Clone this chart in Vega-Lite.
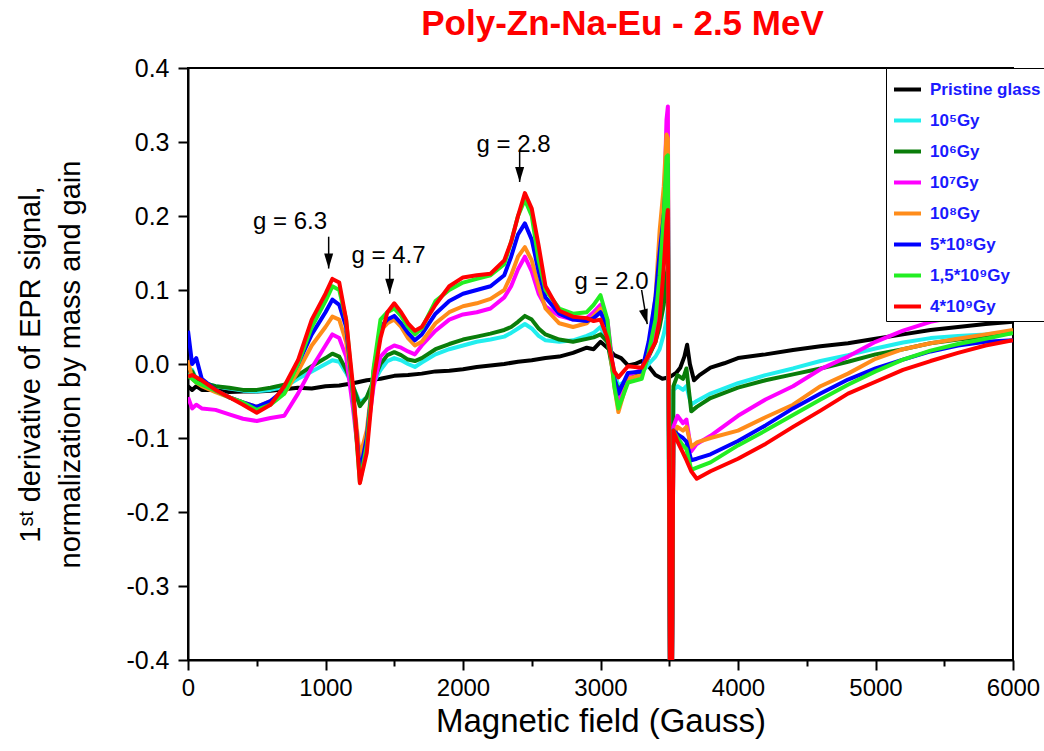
{
"$schema":"https://vega.github.io/schema/vega-lite/v6.json",
"width":825,"height":592,"autosize":"none",
"padding":{"left":188,"top":68,"right":31,"bottom":91},
"background":"white",
"config":{"view":{"stroke":"black","strokeWidth":2},"font":"Liberation Sans"},
"title":{"text":"Poly-Zn-Na-Eu - 2.5 MeV","color":"#ff0000","fontSize":35,"fontWeight":"bold","font":"Liberation Sans","anchor":"middle","frame":"group","dx":22,"offset":14},
"datasets":{
"curves":[
{"s":0,"x":0,"y":-0.03},{"s":0,"x":30,"y":-0.035},{"s":0,"x":60,"y":-0.03},{"s":0,"x":100,"y":-0.035},{"s":0,"x":200,"y":-0.035},{"s":0,"x":300,"y":-0.038},{"s":0,"x":400,"y":-0.037},{"s":0,"x":500,"y":-0.037},{"s":0,"x":600,"y":-0.036},{"s":0,"x":700,"y":-0.034},{"s":0,"x":800,"y":-0.032},{"s":0,"x":900,"y":-0.033},{"s":0,"x":1000,"y":-0.03},{"s":0,"x":1100,"y":-0.029},{"s":0,"x":1200,"y":-0.026},{"s":0,"x":1300,"y":-0.022},{"s":0,"x":1400,"y":-0.02},{"s":0,"x":1500,"y":-0.016},{"s":0,"x":1600,"y":-0.015},{"s":0,"x":1700,"y":-0.013},{"s":0,"x":1800,"y":-0.01},{"s":0,"x":1900,"y":-0.009},{"s":0,"x":2000,"y":-0.007},{"s":0,"x":2100,"y":-0.004},{"s":0,"x":2200,"y":-0.002},{"s":0,"x":2300,"y":0},{"s":0,"x":2400,"y":0.003},{"s":0,"x":2500,"y":0.005},{"s":0,"x":2600,"y":0.008},{"s":0,"x":2700,"y":0.01},{"s":0,"x":2800,"y":0.015},{"s":0,"x":2900,"y":0.022},{"s":0,"x":2950,"y":0.02},{"s":0,"x":3000,"y":0.03},{"s":0,"x":3050,"y":0.022},{"s":0,"x":3100,"y":0.012},{"s":0,"x":3150,"y":0.008},{"s":0,"x":3200,"y":-0.002},{"s":0,"x":3250,"y":0},{"s":0,"x":3300,"y":0.004},{"s":0,"x":3350,"y":-0.003},{"s":0,"x":3400,"y":-0.015},{"s":0,"x":3450,"y":-0.02},{"s":0,"x":3500,"y":-0.018},{"s":0,"x":3550,"y":-0.012},{"s":0,"x":3580,"y":-0.005},{"s":0,"x":3610,"y":0.01},{"s":0,"x":3630,"y":0.026},{"s":0,"x":3650,"y":0},{"s":0,"x":3680,"y":-0.022},{"s":0,"x":3720,"y":-0.015},{"s":0,"x":3800,"y":-0.005},{"s":0,"x":3900,"y":0.001},{"s":0,"x":4000,"y":0.008},{"s":0,"x":4200,"y":0.013},{"s":0,"x":4400,"y":0.019},{"s":0,"x":4600,"y":0.024},{"s":0,"x":4800,"y":0.028},{"s":0,"x":5000,"y":0.034},{"s":0,"x":5200,"y":0.04},{"s":0,"x":5400,"y":0.046},{"s":0,"x":5600,"y":0.05},{"s":0,"x":5800,"y":0.054},{"s":0,"x":6000,"y":0.057},
{"s":1,"x":0,"y":-0.02},{"s":1,"x":30,"y":-0.008},{"s":1,"x":60,"y":-0.02},{"s":1,"x":100,"y":-0.025},{"s":1,"x":200,"y":-0.03},{"s":1,"x":300,"y":-0.033},{"s":1,"x":400,"y":-0.036},{"s":1,"x":500,"y":-0.037},{"s":1,"x":600,"y":-0.035},{"s":1,"x":700,"y":-0.031},{"s":1,"x":800,"y":-0.02},{"s":1,"x":900,"y":-0.01},{"s":1,"x":1000,"y":0},{"s":1,"x":1050,"y":0.005},{"s":1,"x":1100,"y":0.003},{"s":1,"x":1150,"y":-0.012},{"s":1,"x":1200,"y":-0.03},{"s":1,"x":1250,"y":-0.052},{"s":1,"x":1300,"y":-0.045},{"s":1,"x":1350,"y":-0.025},{"s":1,"x":1400,"y":-0.008},{"s":1,"x":1450,"y":0.004},{"s":1,"x":1500,"y":0.008},{"s":1,"x":1550,"y":0.005},{"s":1,"x":1600,"y":0},{"s":1,"x":1650,"y":-0.004},{"s":1,"x":1700,"y":0.002},{"s":1,"x":1800,"y":0.013},{"s":1,"x":1900,"y":0.02},{"s":1,"x":2000,"y":0.025},{"s":1,"x":2100,"y":0.03},{"s":1,"x":2200,"y":0.033},{"s":1,"x":2300,"y":0.037},{"s":1,"x":2350,"y":0.042},{"s":1,"x":2400,"y":0.048},{"s":1,"x":2450,"y":0.054},{"s":1,"x":2500,"y":0.048},{"s":1,"x":2550,"y":0.038},{"s":1,"x":2600,"y":0.032},{"s":1,"x":2700,"y":0.03},{"s":1,"x":2800,"y":0.032},{"s":1,"x":2900,"y":0.038},{"s":1,"x":2950,"y":0.042},{"s":1,"x":3000,"y":0.05},{"s":1,"x":3050,"y":0.03},{"s":1,"x":3100,"y":-0.01},{"s":1,"x":3130,"y":-0.03},{"s":1,"x":3200,"y":-0.02},{"s":1,"x":3300,"y":-0.012},{"s":1,"x":3350,"y":0},{"s":1,"x":3400,"y":0.01},{"s":1,"x":3430,"y":0.02},{"s":1,"x":3460,"y":0.04},{"s":1,"x":3480,"y":0.06},{"s":1,"x":3490,"y":0.075},{"s":1,"x":3495,"y":-0.08},{"s":1,"x":3505,"y":-0.42},{"s":1,"x":3520,"y":-0.42},{"s":1,"x":3530,"y":-0.035},{"s":1,"x":3560,"y":-0.03},{"s":1,"x":3600,"y":-0.035},{"s":1,"x":3625,"y":-0.03},{"s":1,"x":3660,"y":-0.055},{"s":1,"x":3700,"y":-0.05},{"s":1,"x":3800,"y":-0.04},{"s":1,"x":4000,"y":-0.026},{"s":1,"x":4200,"y":-0.015},{"s":1,"x":4400,"y":-0.006},{"s":1,"x":4600,"y":0.004},{"s":1,"x":4800,"y":0.012},{"s":1,"x":5000,"y":0.021},{"s":1,"x":5200,"y":0.029},{"s":1,"x":5400,"y":0.035},{"s":1,"x":5600,"y":0.038},{"s":1,"x":5800,"y":0.04},{"s":1,"x":6000,"y":0.044},
{"s":2,"x":0,"y":-0.02},{"s":2,"x":30,"y":-0.01},{"s":2,"x":60,"y":-0.022},{"s":2,"x":100,"y":-0.025},{"s":2,"x":200,"y":-0.03},{"s":2,"x":300,"y":-0.032},{"s":2,"x":400,"y":-0.035},{"s":2,"x":500,"y":-0.035},{"s":2,"x":600,"y":-0.032},{"s":2,"x":700,"y":-0.028},{"s":2,"x":800,"y":-0.015},{"s":2,"x":900,"y":-0.003},{"s":2,"x":1000,"y":0.008},{"s":2,"x":1050,"y":0.014},{"s":2,"x":1100,"y":0.01},{"s":2,"x":1150,"y":-0.008},{"s":2,"x":1200,"y":-0.03},{"s":2,"x":1250,"y":-0.057},{"s":2,"x":1300,"y":-0.045},{"s":2,"x":1350,"y":-0.022},{"s":2,"x":1400,"y":0},{"s":2,"x":1450,"y":0.012},{"s":2,"x":1500,"y":0.016},{"s":2,"x":1550,"y":0.012},{"s":2,"x":1600,"y":0.006},{"s":2,"x":1650,"y":0.004},{"s":2,"x":1700,"y":0.008},{"s":2,"x":1800,"y":0.02},{"s":2,"x":1900,"y":0.027},{"s":2,"x":2000,"y":0.033},{"s":2,"x":2100,"y":0.037},{"s":2,"x":2200,"y":0.041},{"s":2,"x":2300,"y":0.046},{"s":2,"x":2350,"y":0.05},{"s":2,"x":2400,"y":0.057},{"s":2,"x":2450,"y":0.065},{"s":2,"x":2500,"y":0.06},{"s":2,"x":2550,"y":0.048},{"s":2,"x":2600,"y":0.04},{"s":2,"x":2700,"y":0.033},{"s":2,"x":2800,"y":0.03},{"s":2,"x":2900,"y":0.034},{"s":2,"x":2950,"y":0.036},{"s":2,"x":3000,"y":0.04},{"s":2,"x":3050,"y":0.03},{"s":2,"x":3100,"y":-0.02},{"s":2,"x":3130,"y":-0.035},{"s":2,"x":3200,"y":-0.02},{"s":2,"x":3300,"y":-0.01},{"s":2,"x":3350,"y":0.01},{"s":2,"x":3400,"y":0.03},{"s":2,"x":3430,"y":0.05},{"s":2,"x":3460,"y":0.08},{"s":2,"x":3480,"y":0.12},{"s":2,"x":3490,"y":0.13},{"s":2,"x":3505,"y":-0.42},{"s":2,"x":3520,"y":-0.42},{"s":2,"x":3530,"y":-0.03},{"s":2,"x":3560,"y":-0.015},{"s":2,"x":3600,"y":-0.02},{"s":2,"x":3625,"y":-0.006},{"s":2,"x":3660,"y":-0.064},{"s":2,"x":3700,"y":-0.058},{"s":2,"x":3800,"y":-0.046},{"s":2,"x":4000,"y":-0.032},{"s":2,"x":4200,"y":-0.022},{"s":2,"x":4400,"y":-0.014},{"s":2,"x":4600,"y":-0.006},{"s":2,"x":4800,"y":0.003},{"s":2,"x":5000,"y":0.013},{"s":2,"x":5200,"y":0.02},{"s":2,"x":5400,"y":0.028},{"s":2,"x":5600,"y":0.033},{"s":2,"x":5800,"y":0.037},{"s":2,"x":6000,"y":0.042},
{"s":3,"x":0,"y":-0.045},{"s":3,"x":30,"y":-0.06},{"s":3,"x":60,"y":-0.055},{"s":3,"x":100,"y":-0.06},{"s":3,"x":200,"y":-0.062},{"s":3,"x":300,"y":-0.068},{"s":3,"x":400,"y":-0.074},{"s":3,"x":500,"y":-0.077},{"s":3,"x":600,"y":-0.073},{"s":3,"x":700,"y":-0.07},{"s":3,"x":800,"y":-0.04},{"s":3,"x":900,"y":-0.005},{"s":3,"x":1000,"y":0.025},{"s":3,"x":1050,"y":0.04},{"s":3,"x":1100,"y":0.035},{"s":3,"x":1150,"y":0.01},{"s":3,"x":1200,"y":-0.06},{"s":3,"x":1250,"y":-0.14},{"s":3,"x":1300,"y":-0.1},{"s":3,"x":1350,"y":-0.03},{"s":3,"x":1400,"y":0.01},{"s":3,"x":1450,"y":0.02},{"s":3,"x":1500,"y":0.025},{"s":3,"x":1550,"y":0.022},{"s":3,"x":1600,"y":0.017},{"s":3,"x":1650,"y":0.013},{"s":3,"x":1700,"y":0.025},{"s":3,"x":1800,"y":0.045},{"s":3,"x":1900,"y":0.06},{"s":3,"x":2000,"y":0.067},{"s":3,"x":2100,"y":0.07},{"s":3,"x":2200,"y":0.075},{"s":3,"x":2300,"y":0.09},{"s":3,"x":2350,"y":0.105},{"s":3,"x":2400,"y":0.128},{"s":3,"x":2450,"y":0.145},{"s":3,"x":2500,"y":0.125},{"s":3,"x":2550,"y":0.095},{"s":3,"x":2600,"y":0.078},{"s":3,"x":2700,"y":0.065},{"s":3,"x":2800,"y":0.06},{"s":3,"x":2900,"y":0.062},{"s":3,"x":2950,"y":0.07},{"s":3,"x":3000,"y":0.08},{"s":3,"x":3050,"y":0.06},{"s":3,"x":3100,"y":-0.02},{"s":3,"x":3130,"y":-0.05},{"s":3,"x":3200,"y":-0.015},{"s":3,"x":3300,"y":-0.008},{"s":3,"x":3350,"y":0.01},{"s":3,"x":3400,"y":0.05},{"s":3,"x":3430,"y":0.1},{"s":3,"x":3460,"y":0.2},{"s":3,"x":3480,"y":0.33},{"s":3,"x":3490,"y":0.348},{"s":3,"x":3505,"y":-0.42},{"s":3,"x":3520,"y":-0.42},{"s":3,"x":3530,"y":-0.085},{"s":3,"x":3560,"y":-0.07},{"s":3,"x":3600,"y":-0.08},{"s":3,"x":3625,"y":-0.075},{"s":3,"x":3660,"y":-0.118},{"s":3,"x":3700,"y":-0.108},{"s":3,"x":3800,"y":-0.097},{"s":3,"x":4000,"y":-0.07},{"s":3,"x":4200,"y":-0.048},{"s":3,"x":4400,"y":-0.03},{"s":3,"x":4600,"y":-0.007},{"s":3,"x":4800,"y":0.01},{"s":3,"x":5000,"y":0.03},{"s":3,"x":5200,"y":0.045},{"s":3,"x":5400,"y":0.057},{"s":3,"x":5600,"y":0.064},{"s":3,"x":5800,"y":0.07},{"s":3,"x":6000,"y":0.077},
{"s":4,"x":0,"y":0.005},{"s":4,"x":30,"y":-0.02},{"s":4,"x":60,"y":-0.025},{"s":4,"x":100,"y":-0.03},{"s":4,"x":200,"y":-0.038},{"s":4,"x":300,"y":-0.045},{"s":4,"x":400,"y":-0.052},{"s":4,"x":500,"y":-0.058},{"s":4,"x":600,"y":-0.05},{"s":4,"x":700,"y":-0.04},{"s":4,"x":800,"y":-0.01},{"s":4,"x":900,"y":0.025},{"s":4,"x":1000,"y":0.05},{"s":4,"x":1050,"y":0.064},{"s":4,"x":1100,"y":0.06},{"s":4,"x":1150,"y":0.03},{"s":4,"x":1200,"y":-0.04},{"s":4,"x":1250,"y":-0.125},{"s":4,"x":1300,"y":-0.09},{"s":4,"x":1350,"y":-0.01},{"s":4,"x":1400,"y":0.045},{"s":4,"x":1450,"y":0.055},{"s":4,"x":1500,"y":0.06},{"s":4,"x":1550,"y":0.05},{"s":4,"x":1600,"y":0.035},{"s":4,"x":1650,"y":0.025},{"s":4,"x":1700,"y":0.03},{"s":4,"x":1800,"y":0.055},{"s":4,"x":1900,"y":0.07},{"s":4,"x":2000,"y":0.078},{"s":4,"x":2100,"y":0.082},{"s":4,"x":2200,"y":0.088},{"s":4,"x":2300,"y":0.1},{"s":4,"x":2350,"y":0.12},{"s":4,"x":2400,"y":0.145},{"s":4,"x":2450,"y":0.158},{"s":4,"x":2500,"y":0.14},{"s":4,"x":2550,"y":0.105},{"s":4,"x":2600,"y":0.075},{"s":4,"x":2700,"y":0.055},{"s":4,"x":2800,"y":0.05},{"s":4,"x":2900,"y":0.055},{"s":4,"x":2950,"y":0.065},{"s":4,"x":3000,"y":0.075},{"s":4,"x":3050,"y":0.05},{"s":4,"x":3100,"y":-0.03},{"s":4,"x":3130,"y":-0.065},{"s":4,"x":3200,"y":-0.02},{"s":4,"x":3300,"y":-0.015},{"s":4,"x":3350,"y":0.02},{"s":4,"x":3400,"y":0.09},{"s":4,"x":3430,"y":0.18},{"s":4,"x":3460,"y":0.24},{"s":4,"x":3480,"y":0.31},{"s":4,"x":3490,"y":0.305},{"s":4,"x":3505,"y":-0.42},{"s":4,"x":3520,"y":-0.42},{"s":4,"x":3530,"y":-0.1},{"s":4,"x":3560,"y":-0.085},{"s":4,"x":3600,"y":-0.09},{"s":4,"x":3625,"y":-0.085},{"s":4,"x":3660,"y":-0.112},{"s":4,"x":3700,"y":-0.106},{"s":4,"x":3800,"y":-0.1},{"s":4,"x":4000,"y":-0.09},{"s":4,"x":4200,"y":-0.072},{"s":4,"x":4400,"y":-0.055},{"s":4,"x":4600,"y":-0.03},{"s":4,"x":4800,"y":-0.013},{"s":4,"x":5000,"y":0.007},{"s":4,"x":5200,"y":0.02},{"s":4,"x":5400,"y":0.028},{"s":4,"x":5600,"y":0.034},{"s":4,"x":5800,"y":0.04},{"s":4,"x":6000,"y":0.046},
{"s":5,"x":0,"y":0.045},{"s":5,"x":30,"y":0},{"s":5,"x":60,"y":0.008},{"s":5,"x":100,"y":-0.02},{"s":5,"x":200,"y":-0.035},{"s":5,"x":300,"y":-0.045},{"s":5,"x":400,"y":-0.052},{"s":5,"x":500,"y":-0.058},{"s":5,"x":600,"y":-0.05},{"s":5,"x":700,"y":-0.035},{"s":5,"x":800,"y":0},{"s":5,"x":900,"y":0.04},{"s":5,"x":1000,"y":0.07},{"s":5,"x":1050,"y":0.087},{"s":5,"x":1100,"y":0.08},{"s":5,"x":1150,"y":0.05},{"s":5,"x":1200,"y":-0.04},{"s":5,"x":1250,"y":-0.147},{"s":5,"x":1300,"y":-0.1},{"s":5,"x":1350,"y":-0.01},{"s":5,"x":1400,"y":0.05},{"s":5,"x":1450,"y":0.06},{"s":5,"x":1500,"y":0.065},{"s":5,"x":1550,"y":0.055},{"s":5,"x":1600,"y":0.042},{"s":5,"x":1650,"y":0.032},{"s":5,"x":1700,"y":0.04},{"s":5,"x":1800,"y":0.068},{"s":5,"x":1900,"y":0.085},{"s":5,"x":2000,"y":0.095},{"s":5,"x":2100,"y":0.1},{"s":5,"x":2200,"y":0.105},{"s":5,"x":2300,"y":0.12},{"s":5,"x":2350,"y":0.145},{"s":5,"x":2400,"y":0.175},{"s":5,"x":2450,"y":0.19},{"s":5,"x":2500,"y":0.168},{"s":5,"x":2550,"y":0.125},{"s":5,"x":2600,"y":0.09},{"s":5,"x":2700,"y":0.068},{"s":5,"x":2800,"y":0.06},{"s":5,"x":2900,"y":0.058},{"s":5,"x":2950,"y":0.062},{"s":5,"x":3000,"y":0.07},{"s":5,"x":3050,"y":0.05},{"s":5,"x":3100,"y":-0.02},{"s":5,"x":3130,"y":-0.04},{"s":5,"x":3200,"y":-0.012},{"s":5,"x":3300,"y":-0.01},{"s":5,"x":3350,"y":0.03},{"s":5,"x":3400,"y":0.09},{"s":5,"x":3430,"y":0.15},{"s":5,"x":3460,"y":0.2},{"s":5,"x":3480,"y":0.26},{"s":5,"x":3490,"y":0.27},{"s":5,"x":3505,"y":-0.42},{"s":5,"x":3520,"y":-0.42},{"s":5,"x":3530,"y":-0.09},{"s":5,"x":3560,"y":-0.095},{"s":5,"x":3600,"y":-0.1},{"s":5,"x":3625,"y":-0.105},{"s":5,"x":3660,"y":-0.13},{"s":5,"x":3700,"y":-0.128},{"s":5,"x":3800,"y":-0.122},{"s":5,"x":4000,"y":-0.104},{"s":5,"x":4200,"y":-0.083},{"s":5,"x":4400,"y":-0.06},{"s":5,"x":4600,"y":-0.04},{"s":5,"x":4800,"y":-0.021},{"s":5,"x":5000,"y":-0.006},{"s":5,"x":5200,"y":0.006},{"s":5,"x":5400,"y":0.017},{"s":5,"x":5600,"y":0.025},{"s":5,"x":5800,"y":0.03},{"s":5,"x":6000,"y":0.032},
{"s":6,"x":0,"y":-0.015},{"s":6,"x":30,"y":-0.02},{"s":6,"x":60,"y":-0.025},{"s":6,"x":100,"y":-0.028},{"s":6,"x":200,"y":-0.036},{"s":6,"x":300,"y":-0.045},{"s":6,"x":400,"y":-0.052},{"s":6,"x":500,"y":-0.062},{"s":6,"x":600,"y":-0.055},{"s":6,"x":700,"y":-0.04},{"s":6,"x":800,"y":0},{"s":6,"x":900,"y":0.05},{"s":6,"x":1000,"y":0.085},{"s":6,"x":1050,"y":0.105},{"s":6,"x":1100,"y":0.1},{"s":6,"x":1150,"y":0.06},{"s":6,"x":1200,"y":-0.04},{"s":6,"x":1250,"y":-0.16},{"s":6,"x":1300,"y":-0.11},{"s":6,"x":1350,"y":-0.005},{"s":6,"x":1400,"y":0.06},{"s":6,"x":1450,"y":0.07},{"s":6,"x":1500,"y":0.075},{"s":6,"x":1550,"y":0.065},{"s":6,"x":1600,"y":0.05},{"s":6,"x":1650,"y":0.04},{"s":6,"x":1700,"y":0.048},{"s":6,"x":1800,"y":0.085},{"s":6,"x":1900,"y":0.1},{"s":6,"x":2000,"y":0.11},{"s":6,"x":2100,"y":0.115},{"s":6,"x":2200,"y":0.12},{"s":6,"x":2300,"y":0.135},{"s":6,"x":2350,"y":0.165},{"s":6,"x":2400,"y":0.2},{"s":6,"x":2450,"y":0.222},{"s":6,"x":2500,"y":0.2},{"s":6,"x":2550,"y":0.14},{"s":6,"x":2600,"y":0.1},{"s":6,"x":2700,"y":0.075},{"s":6,"x":2800,"y":0.068},{"s":6,"x":2900,"y":0.07},{"s":6,"x":2950,"y":0.08},{"s":6,"x":3000,"y":0.093},{"s":6,"x":3050,"y":0.06},{"s":6,"x":3100,"y":-0.03},{"s":6,"x":3130,"y":-0.06},{"s":6,"x":3200,"y":-0.025},{"s":6,"x":3300,"y":-0.02},{"s":6,"x":3350,"y":0.015},{"s":6,"x":3400,"y":0.06},{"s":6,"x":3430,"y":0.12},{"s":6,"x":3460,"y":0.2},{"s":6,"x":3480,"y":0.28},{"s":6,"x":3490,"y":0.282},{"s":6,"x":3505,"y":-0.42},{"s":6,"x":3520,"y":-0.42},{"s":6,"x":3530,"y":-0.09},{"s":6,"x":3560,"y":-0.1},{"s":6,"x":3600,"y":-0.11},{"s":6,"x":3625,"y":-0.115},{"s":6,"x":3660,"y":-0.143},{"s":6,"x":3700,"y":-0.14},{"s":6,"x":3800,"y":-0.133},{"s":6,"x":4000,"y":-0.11},{"s":6,"x":4200,"y":-0.09},{"s":6,"x":4400,"y":-0.069},{"s":6,"x":4600,"y":-0.048},{"s":6,"x":4800,"y":-0.028},{"s":6,"x":5000,"y":-0.01},{"s":6,"x":5200,"y":0.006},{"s":6,"x":5400,"y":0.018},{"s":6,"x":5600,"y":0.027},{"s":6,"x":5800,"y":0.034},{"s":6,"x":6000,"y":0.042},
{"s":7,"x":0,"y":-0.017},{"s":7,"x":30,"y":-0.015},{"s":7,"x":60,"y":-0.018},{"s":7,"x":100,"y":-0.022},{"s":7,"x":200,"y":-0.035},{"s":7,"x":300,"y":-0.045},{"s":7,"x":400,"y":-0.055},{"s":7,"x":500,"y":-0.066},{"s":7,"x":600,"y":-0.055},{"s":7,"x":700,"y":-0.03},{"s":7,"x":800,"y":0.005},{"s":7,"x":900,"y":0.06},{"s":7,"x":1000,"y":0.095},{"s":7,"x":1050,"y":0.115},{"s":7,"x":1100,"y":0.11},{"s":7,"x":1150,"y":0.06},{"s":7,"x":1200,"y":-0.03},{"s":7,"x":1250,"y":-0.161},{"s":7,"x":1300,"y":-0.12},{"s":7,"x":1350,"y":-0.02},{"s":7,"x":1400,"y":0.035},{"s":7,"x":1450,"y":0.07},{"s":7,"x":1500,"y":0.082},{"s":7,"x":1550,"y":0.07},{"s":7,"x":1600,"y":0.055},{"s":7,"x":1650,"y":0.045},{"s":7,"x":1700,"y":0.05},{"s":7,"x":1800,"y":0.08},{"s":7,"x":1900,"y":0.105},{"s":7,"x":2000,"y":0.117},{"s":7,"x":2100,"y":0.12},{"s":7,"x":2200,"y":0.122},{"s":7,"x":2300,"y":0.14},{"s":7,"x":2350,"y":0.165},{"s":7,"x":2400,"y":0.2},{"s":7,"x":2450,"y":0.231},{"s":7,"x":2500,"y":0.21},{"s":7,"x":2550,"y":0.16},{"s":7,"x":2600,"y":0.105},{"s":7,"x":2700,"y":0.072},{"s":7,"x":2800,"y":0.064},{"s":7,"x":2900,"y":0.062},{"s":7,"x":2950,"y":0.058},{"s":7,"x":3000,"y":0.06},{"s":7,"x":3050,"y":0.035},{"s":7,"x":3100,"y":-0.01},{"s":7,"x":3130,"y":-0.018},{"s":7,"x":3200,"y":-0.003},{"s":7,"x":3300,"y":-0.005},{"s":7,"x":3350,"y":0.012},{"s":7,"x":3400,"y":0.03},{"s":7,"x":3430,"y":0.06},{"s":7,"x":3460,"y":0.13},{"s":7,"x":3480,"y":0.19},{"s":7,"x":3490,"y":0.208},{"s":7,"x":3505,"y":-0.42},{"s":7,"x":3520,"y":-0.42},{"s":7,"x":3530,"y":-0.09},{"s":7,"x":3560,"y":-0.105},{"s":7,"x":3600,"y":-0.12},{"s":7,"x":3625,"y":-0.13},{"s":7,"x":3660,"y":-0.145},{"s":7,"x":3700,"y":-0.155},{"s":7,"x":3800,"y":-0.145},{"s":7,"x":4000,"y":-0.128},{"s":7,"x":4200,"y":-0.108},{"s":7,"x":4400,"y":-0.085},{"s":7,"x":4600,"y":-0.063},{"s":7,"x":4800,"y":-0.04},{"s":7,"x":5000,"y":-0.024},{"s":7,"x":5200,"y":-0.008},{"s":7,"x":5400,"y":0.004},{"s":7,"x":5600,"y":0.015},{"s":7,"x":5800,"y":0.025},{"s":7,"x":6000,"y":0.032}
],
"arrows":[
{"x":1023,"y":0.172,"x2":1023,"y2":0.129,"a":0},
{"x":1467,"y":0.135,"x2":1467,"y2":0.095,"a":0},
{"x":2412,"y":0.287,"x2":2412,"y2":0.246,"a":0},
{"x":3299,"y":0.1,"x2":3340,"y2":0.054,"a":-15}
],
"labels":[
{"t":"g = 6.3","x":742,"y":0.182},
{"t":"g = 4.7","x":1458,"y":0.136},
{"t":"g = 2.8","x":2367,"y":0.287},
{"t":"g = 2.0","x":3080,"y":0.101}
]
},
"layer":[
{"data":{"name":"curves"},
"mark":{"type":"line","strokeWidth":4,"clip":true,"strokeJoin":"round"},
"encoding":{
"x":{"field":"x","type":"quantitative","scale":{"domain":[0,6000],"nice":false,"zero":false},
"axis":{"title":"Magnetic field (Gauss)","values":[0,500,1000,1500,2000,2500,3000,3500,4000,4500,5000,5500,6000],
"labelExpr":"datum.value % 1000 === 0 ? '' + datum.value : ''",
"tickSize":{"condition":{"test":"datum.value % 1000 !== 0","value":6},"value":10},
"labelFontSize":24,"labelColor":"black","labelFont":"Liberation Sans","titleFontSize":33,"titleFontWeight":"normal","titleColor":"black","titleFont":"Liberation Sans",
"domainColor":"black","domainWidth":2,"tickColor":"black","tickWidth":2,"grid":false,"labelPadding":6,"titlePadding":5,"labelFlush":false,"labelOverlap":false}},
"y":{"field":"y","type":"quantitative","scale":{"domain":[-0.4,0.4],"nice":false,"zero":false},
"axis":{"title":["1ˢᵗ derivative of EPR signal,","normalization by mass and gain"],
"values":[-0.4,-0.35,-0.3,-0.25,-0.2,-0.15,-0.1,-0.05,0,0.05,0.1,0.15,0.2,0.25,0.3,0.35,0.4],
"labelExpr":"abs(datum.value*10 - round(datum.value*10)) < 0.001 ? (datum.value < -0.001 ? '-' : '') + format(abs(datum.value), '.1f') : ''",
"tickSize":{"condition":{"test":"abs(datum.value*10 - round(datum.value*10)) > 0.001","value":6},"value":10},
"labelFontSize":25,"labelColor":"black","labelFont":"Liberation Sans","titleFontSize":29,"titleFontWeight":"normal","titleColor":"black","titleFont":"Liberation Sans","titleLineHeight":40,
"domainColor":"black","domainWidth":2,"tickColor":"black","tickWidth":2,"grid":false,"labelPadding":9,"titlePadding":40,"labelFlush":false,"labelOverlap":false}},
"color":{"field":"s","type":"nominal","scale":{"domain":[0,1,2,3,4,5,6,7],"range":["#000000","#22eeee","#0a7d0a","#ff00ff","#ff8c1a","#0000ff","#22ee22","#ff0000"]},
"legend":{"orient":"none","legendX":698,"legendY":0,"title":null,"symbolType":"stroke","symbolSize":729,"symbolStrokeWidth":4,
"labelExpr":"['Pristine glass','10⁵Gy','10⁶Gy','10⁷Gy','10⁸Gy','5*10⁸Gy','1,5*10⁹Gy','4*10⁹Gy'][datum.value]",
"labelFontSize":17,"labelFontWeight":"bold","labelColor":"#1a1aff","labelFont":"Liberation Sans","labelOffset":7,"rowPadding":7,"padding":6,"fillColor":"white","strokeColor":"black","labelLimit":300}}
}},
{"data":{"name":"arrows"},"mark":{"type":"rule","strokeWidth":1.5,"color":"black"},
"encoding":{"x":{"field":"x","type":"quantitative"},"y":{"field":"y","type":"quantitative"},"x2":{"field":"x2"},"y2":{"field":"y2"}}},
{"data":{"name":"arrows"},"mark":{"type":"point","shape":"M-0.6,-2L0.6,-2L0,0Z","filled":true,"color":"black","size":225,"opacity":1},
"encoding":{"x":{"field":"x2","type":"quantitative"},"y":{"field":"y2","type":"quantitative"},"angle":{"field":"a","type":"quantitative","scale":null}}},
{"data":{"name":"labels"},"mark":{"type":"text","fontSize":24,"font":"Liberation Sans","baseline":"alphabetic","align":"center","color":"black"},
"encoding":{"x":{"field":"x","type":"quantitative"},"y":{"field":"y","type":"quantitative"},"text":{"field":"t","type":"nominal"}}}
]
}
